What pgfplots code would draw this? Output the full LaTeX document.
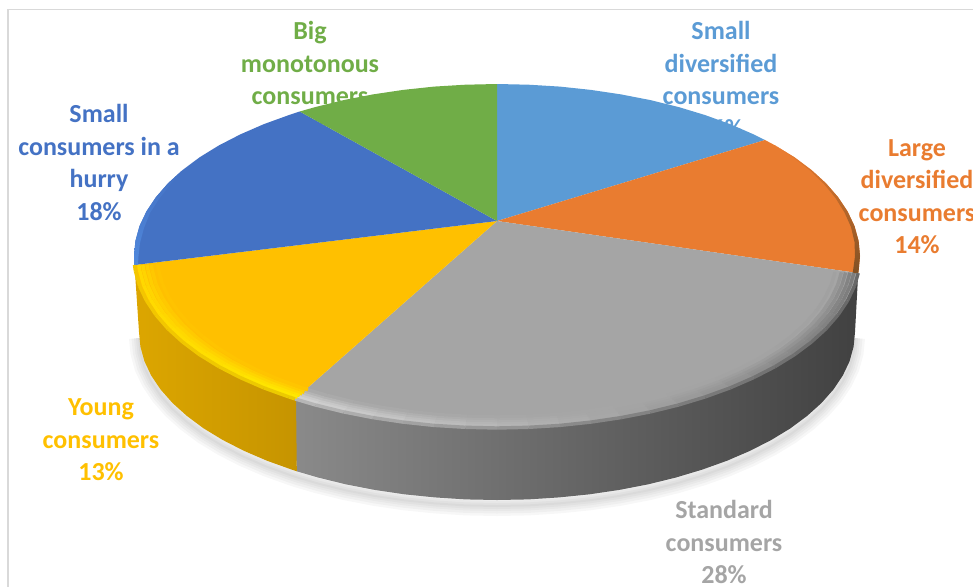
\documentclass[border=0pt]{standalone}
\usepackage{pgfplots}
\usepackage{pgfplotstable}
\usepackage{fontspec}
\setmainfont{Carlito}
\pgfplotsset{compat=1.18}

\definecolor{cBlue}{HTML}{5B9BD5}
\definecolor{cOrange}{HTML}{E97C30}
\definecolor{cGray}{HTML}{A5A5A5}
\definecolor{cYellow}{HTML}{FFC000}
\definecolor{cNavy}{HTML}{4472C4}
\definecolor{cGreen}{HTML}{70AD47}
\definecolor{cFrame}{HTML}{D9D9D9}

% front rim of the grey slice (top edge of its wall)
\pgfplotstableread{
858.2 273.1
854.5 285.9
847.6 300.5
838.1 314.8
826 328.7
811.4 342
794.4 354.7
775.1 366.6
753.7 377.6
730.3 387.8
705.2 396.9
678.5 405
650.4 411.9
621.1 417.6
590.9 422.1
560 425.4
528.7 427.3
497 428
465.3 427.3
434 425.4
403.1 422.1
372.9 417.6
343.6 411.9
315.5 405
295 398.9
}\grayArc

% front rim of the yellow slice
\pgfplotstableread{
295 398.9
288.8 396.9
263.7 387.8
240.3 377.6
218.9 366.6
199.6 354.7
182.6 342
168 328.7
155.9 314.8
146.4 300.5
139.5 285.9
135.4 271
134.5 265
}\yellowArc

% lower edge of the disc
\pgfplotstableread{
855 332
853.6 346.6
849.6 361.2
842.8 375.5
833.4 389.5
821.5 403
807 416
790.3 428.4
771.2 440
750.1 450.8
727.1 460.7
702.3 469.6
676 477.5
648.3 484.3
619.4 489.9
589.7 494.3
559.1 497.4
528.2 499.4
497 500
465.8 499.4
434.9 497.4
404.3 494.3
374.6 489.9
345.7 484.3
318 477.5
296.8 471.3
291.7 469.6
266.9 460.7
243.9 450.8
222.8 440
203.7 428.4
187 416
172.5 403
160.6 389.5
151.2 375.5
144.4 361.2
140.4 346.6
139 332
}\lowerEdge

% bevel colours along the rim, from left to right
\pgfplotsset{
  colormap={g0}{rgb255=(184,184,184) rgb255=(159,159,159) rgb255=(138,138,138) rgb255=(121,121,121) rgb255=(104,104,104)},
  colormap={g2}{rgb255=(210,210,210) rgb255=(190,190,190) rgb255=(172,172,172) rgb255=(150,150,150) rgb255=(125,125,125)},
  colormap={g4}{rgb255=(203,203,203) rgb255=(186,186,186) rgb255=(171,171,171) rgb255=(152,152,152) rgb255=(131,131,131)},
  colormap={g6}{rgb255=(192,192,192) rgb255=(180,180,180) rgb255=(169,169,169) rgb255=(156,156,156) rgb255=(141,141,141)},
  colormap={g8}{rgb255=(181,181,181) rgb255=(174,174,174) rgb255=(167,167,167) rgb255=(160,160,160) rgb255=(151,151,151)},
  colormap={g11}{rgb255=(170,170,170) rgb255=(168,168,168) rgb255=(166,166,166) rgb255=(164,164,164) rgb255=(161,161,161)},
  colormap={y0}{rgb255=(243,198,0) rgb255=(239,200,0) rgb255=(235,203,0)},
  colormap={y2}{rgb255=(255,216,0) rgb255=(255,224,0) rgb255=(255,232,0)},
  colormap={y4}{rgb255=(255,212,0) rgb255=(255,219,0) rgb255=(255,226,0)},
  colormap={y6}{rgb255=(255,206,0) rgb255=(255,211,0) rgb255=(255,216,0)},
  colormap={y8}{rgb255=(255,200,0) rgb255=(255,203,0) rgb255=(255,206,0)},
  colormap={y11}{rgb255=(255,195,0) rgb255=(255,196,0) rgb255=(255,197,0)},
  sheet/.style={
    at={(0,0)}, anchor=south west, hide axis, scale only axis,
    width=973pt, height=587pt,
    xmin=0, xmax=973, ymin=0, ymax=587, y dir=reverse, clip=false},
}

% one stroke of the bevel: the rim pulled towards the disc centre by factor #1
\newcommand{\bevel}[3]{%
  \addplot[mesh, point meta=x, point meta rel=per plot, colormap name=#3, line width=3.4pt]
    table[x expr={497+(\thisrowno{0}-497)*#1}, y expr={256+(\thisrowno{1}-256)*#1}] {#2};}

\newcommand{\shadow}[1]{%
  \addplot[draw=black, opacity=0.03, line width=#1, yshift=-6pt] table {\lowerEdge};}

\begin{document}
\begin{tikzpicture}
\path[use as bounding box] (0,0) rectangle (973pt,587pt);

% frame and data labels lie beneath the pie
\begin{axis}[sheet]
\addplot[draw=cFrame, line width=1.5pt] coordinates {(973,9.5) (8,9.5) (8,587)};
\begin{scope}[every node/.style={align=center, font=\fontsize{26}{32.4}\selectfont\bfseries}]
\node[text=cGreen] at (axis cs:310,79.5) {Big\\monotonous\\consumers\\11\%};
\node[text=cBlue] at (axis cs:721,79.5) {Small\\diversified\\consumers\\16\%};
\node[text=cOrange] at (axis cs:917,196.5) {Large\\diversified\\consumers\\14\%};
\node[text=cNavy] at (axis cs:99,162.5) {Small\\consumers in a\\hurry\\18\%};
\node[text=cYellow] at (axis cs:101,440) {Young\\consumers\\13\%};
\node[text=cGray] at (axis cs:724,542) {Standard\\consumers\\28\%};
\end{scope}
\end{axis}

\begin{axis}[sheet]
% soft shadow under the disc
\shadow{20pt}
\shadow{15pt}
\shadow{10pt}
\shadow{6pt}
\shadow{2pt}

% side walls
\addplot[draw=none, left color={rgb,255:red,138;green,138;blue,138}, middle color={rgb,255:red,74;green,74;blue,74}, right color={rgb,255:red,65;green,65;blue,65}] coordinates {
(858.2,273.1)(854.5,285.9)(847.6,300.5)(838.1,314.8)(826,328.7)(811.4,342)(794.4,354.7)(775.1,366.6)(753.7,377.6)(730.3,387.8)(705.2,396.9)(678.5,405)(650.4,411.9)(621.1,417.6)(590.9,422.1)(560,425.4)(528.7,427.3)(497,428)(465.3,427.3)(434,425.4)(403.1,422.1)(372.9,417.6)(343.6,411.9)(315.5,405)(293,398.9)
(296.8,471.3)(318,477.5)(345.7,484.3)(374.6,489.9)(404.3,494.3)(434.9,497.4)(465.8,499.4)(497,500)(528.2,499.4)(559.1,497.4)(589.7,494.3)(619.4,489.9)(648.3,484.3)(676,477.5)(702.3,469.6)(727.1,460.7)(750.1,450.8)(771.2,440)(790.3,428.4)(807,416)(821.5,403)(833.4,389.5)(842.8,375.5)(849.6,361.2)(853.6,346.6)(855,332)};
\addplot[draw=none, left color={rgb,255:red,220;green,166;blue,0}, right color={rgb,255:red,198;green,148;blue,0}] coordinates {
(296,398.9)(288.8,396.9)(263.7,387.8)(240.3,377.6)(218.9,366.6)(199.6,354.7)(182.6,342)(168,328.7)(155.9,314.8)(146.4,300.5)(139.5,285.9)(135.4,271)(134.5,265)
(139,332)(140.4,346.6)(144.4,361.2)(151.2,375.5)(160.6,389.5)(172.5,403)(187,416)(203.7,428.4)(222.8,440)(243.9,450.8)(266.9,460.7)(291.7,469.6)(296.8,471.3)};

% top faces
\addplot[fill=cBlue, draw=none] coordinates {
(497,221)(497,84)(528.7,84.7)(560,86.6)(590.9,89.9)(621.1,94.4)(650.4,100.1)(678.5,107)(705.2,115.1)(730.3,124.2)(753.7,134.4)(765,140)};
\addplot[fill=cOrange, draw=none] coordinates {
(497,221)(765,140)(775.1,145.4)(794.4,157.3)(811.4,170)(826,183.3)(838.1,197.2)(847.6,211.5)(854.5,226.1)(858.6,241)(860,256)(858.6,271)(858.2,273.1)};
\addplot[fill=cGray, draw=none] coordinates {
(497,221)(858.2,273.1)(854.5,285.9)(847.6,300.5)(838.1,314.8)(826,328.7)(811.4,342)(794.4,354.7)(775.1,366.6)(753.7,377.6)(730.3,387.8)(705.2,396.9)(678.5,405)(650.4,411.9)(621.1,417.6)(590.9,422.1)(560,425.4)(528.7,427.3)(497,428)(465.3,427.3)(434,425.4)(403.1,422.1)(372.9,417.6)(343.6,411.9)(315.5,405)(295,398.9)};
\addplot[fill=cYellow, draw=none] coordinates {
(497,221)(295,398.9)(288.8,396.9)(263.7,387.8)(240.3,377.6)(218.9,366.6)(199.6,354.7)(182.6,342)(168,328.7)(155.9,314.8)(146.4,300.5)(139.5,285.9)(135.4,271)(134.5,265)};
\addplot[fill=cNavy, draw=none] coordinates {
(497,221)(134.5,265)(134,256)(135.4,241)(139.5,226.1)(146.4,211.5)(155.9,197.2)(168,183.3)(182.6,170)(199.6,157.3)(218.9,145.4)(240.3,134.4)(263.7,124.2)(288.8,115.1)(299.7,111.5)};
\addplot[fill=cGreen, draw=none] coordinates {
(497,221)(299.7,111.5)(315.5,107)(343.6,100.1)(372.9,94.4)(403.1,89.9)(434,86.6)(465.3,84.7)(497,84)};

% dark edge of the orange slice, light edge of the navy slice
\addplot[draw=none, top color=cOrange, bottom color={rgb,255:red,128;green,80;blue,36}] coordinates {
(775.1,145.4)(794.4,157.3)(811.4,170)(826,183.3)(838.1,197.2)(847.6,211.5)(854.5,226.1)(858.6,241)(860,256)(858.6,271)(858.2,273.1)
(852.5,273.5)(853,271)(855,256)(854.5,242)(851,227)(844.5,212.5)(835.5,198)(824,184)(810,170.5)(794,158)};
\addplot[draw=none, top color=cNavy, bottom color={rgb,255:red,80;green,136;blue,220}] coordinates {
(134.5,265)(134,256)(135.4,241)(139.5,226.1)(146.4,211.5)(155.9,197.2)(168,183.3)(182.6,170)
(182.6,171)(170,185)(159,199)(150,213)(144,228)(140,243)(138.5,256)(138,264.5)};

% rounded front rim of the grey and yellow slices
\bevel{0.936}{\grayArc}{g11}
\bevel{0.9535}{\grayArc}{g8}
\bevel{0.965}{\grayArc}{g6}
\bevel{0.977}{\grayArc}{g4}
\bevel{0.988}{\grayArc}{g2}
\bevel{1.0}{\grayArc}{g0}
\bevel{0.936}{\yellowArc}{y11}
\bevel{0.9535}{\yellowArc}{y8}
\bevel{0.965}{\yellowArc}{y6}
\bevel{0.977}{\yellowArc}{y4}
\bevel{0.988}{\yellowArc}{y2}
\bevel{1.0}{\yellowArc}{y0}
\end{axis}
\end{tikzpicture}
\end{document}
